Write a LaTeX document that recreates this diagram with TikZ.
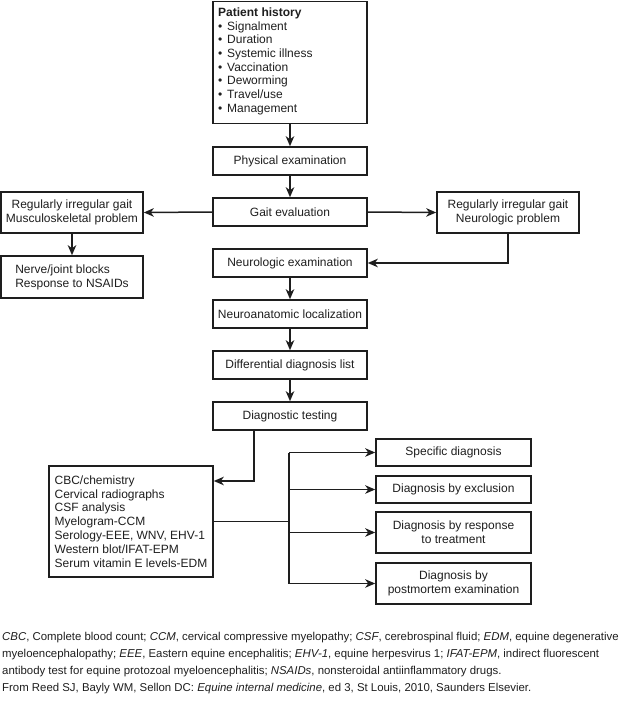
\documentclass[tikz,border=0pt]{standalone}
\usepackage{fontspec}
\setmainfont{Liberation Sans}
\usetikzlibrary{arrows.meta}
\definecolor{ink}{HTML}{1E1E1E}
\begin{document}
\begin{tikzpicture}[x=1pt,y=-1pt,
  box/.style={draw=ink,line width=1.6pt,rectangle,inner sep=0pt,align=center,
    font=\fontsize{12}{13.8}\selectfont,text=ink},
  conn/.style={draw=ink,line width=1.5pt},
  arr/.style={conn,-{Stealth[length=10pt,width=8.5pt,inset=3pt]}}]
\useasboundingbox (0,0) rectangle (620,709);
% main column
\node[box,minimum width=154pt,minimum height=122pt] (hist) at (290,62.5) {};
\node[anchor=north west,inner sep=0pt,align=left,text=ink,
  font=\fontsize{12}{13.7}\selectfont] (histtext) at (218,7.5)
  {\textbf{Patient history}\\
   \makebox[9pt][l]{•}Signalment\\
   \makebox[9pt][l]{•}Duration\\
   \makebox[9pt][l]{•}Systemic illness\\
   \makebox[9pt][l]{•}Vaccination\\
   \makebox[9pt][l]{•}Deworming\\
   \makebox[9pt][l]{•}Travel/use\\
   \makebox[9pt][l]{•}Management};
\node[box,minimum width=154pt,minimum height=28pt] (phys) at (290,161) {Physical examination};
\node[box,minimum width=154pt,minimum height=28pt] (gait) at (290,212) {Gait evaluation};
\node[box,minimum width=154pt,minimum height=28pt] (neuro) at (290,263) {Neurologic examination};
\node[box,minimum width=154pt,minimum height=28pt] (neuroan) at (290,314) {Neuroanatomic localization};
\node[box,minimum width=154pt,minimum height=28pt] (diff) at (290,365) {Differential diagnosis list};
\node[box,minimum width=154pt,minimum height=28pt] (test) at (290,416) {Diagnostic testing};
% side boxes
\node[box,minimum width=142pt,minimum height=41pt] (musc) at (72,212.5)
  {Regularly irregular gait\\Musculoskeletal problem};
\node[box,minimum width=142pt,minimum height=42pt,align=left] (nerve) at (72,277)
  {Nerve/joint blocks\\Response to NSAIDs};
\node[box,minimum width=142pt,minimum height=41pt] (nprob) at (508,212.5)
  {Regularly irregular gait\\Neurologic problem};
% tests
\node[box,minimum width=164pt,minimum height=111pt,align=left] (cbc) at (131,521.5)
  {CBC/chemistry\\Cervical radiographs\\CSF analysis\\Myelogram-CCM\\
   Serology-EEE, WNV, EHV-1\\Western blot/IFAT-EPM\\Serum vitamin E levels-EDM};
% outcomes
\node[box,minimum width=155pt,minimum height=27pt] (spec) at (453.5,452.5) {Specific diagnosis};
\node[box,minimum width=155pt,minimum height=27pt] (excl) at (453.5,489.5) {Diagnosis by exclusion};
\node[box,minimum width=155pt,minimum height=41pt] (resp) at (453.5,532.5) {Diagnosis by response\\to treatment};
\node[box,minimum width=155pt,minimum height=41pt] (post) at (453.5,583.5) {Diagnosis by\\postmortem examination};
% connectors
\draw[arr] (hist) -- (phys);
\draw[arr] (phys) -- (gait);
\draw[arr] (gait.west) -- (musc.east);
\draw[arr] (gait.east) -- (nprob.west);
\draw[arr] (musc) -- (nerve);
\draw[arr] (nprob.south) |- (neuro.east);
\draw[arr] (neuro) -- (neuroan);
\draw[arr] (neuroan) -- (diff);
\draw[arr] (diff) -- (test);
\draw[arr] ([xshift=-36pt]test.south) |- ([yshift=40.5pt]cbc.east);
\coordinate (fan) at (289,521.5);
\draw[conn] (cbc.east) -- (fan);
\draw[conn] (fan |- spec.west) -- (fan |- post.west);
\foreach \n in {spec,excl,resp,post}
  \draw[arr] (fan |- \n.west) -- (\n.west);
% caption
\node[anchor=north west,inner sep=0pt,align=left,text=ink,
  font=\fontsize{11.4}{17}\selectfont] (cap) at (2,632)
  {\textit{CBC}, Complete blood count; \textit{CCM}, cervical compressive myelopathy; \textit{CSF}, cerebrospinal fluid; \textit{EDM}, equine degenerative\\
   myeloencephalopathy; \textit{EEE}, Eastern equine encephalitis; \textit{EHV-1}, equine herpesvirus 1; \textit{IFAT-EPM}, indirect fluorescent\\
   antibody test for equine protozoal myeloencephalitis; \textit{NSAIDs}, nonsteroidal antiinflammatory drugs.\\
   From Reed SJ, Bayly WM, Sellon DC: \textit{Equine internal medicine}, ed 3, St Louis, 2010, Saunders Elsevier.};
\end{tikzpicture}
\end{document}
